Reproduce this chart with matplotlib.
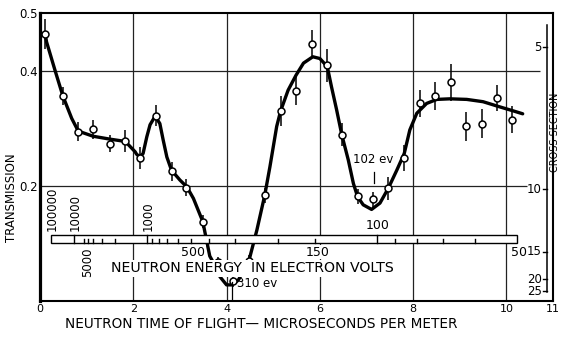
import numpy as np
import matplotlib
matplotlib.use("Agg")
import matplotlib.pyplot as plt
from matplotlib.patches import Rectangle

# measured transmission with statistical errors (time of flight in microseconds per meter)
tof = [0.11, 0.49, 0.82, 1.14, 1.50, 1.83, 2.14, 2.49, 2.82, 3.14,
       3.49, 3.82, 4.13, 4.48, 4.82, 5.16, 5.49, 5.83, 6.16, 6.47,
       6.81, 7.15, 7.47, 7.81, 8.15, 8.48, 8.81, 9.13, 9.47, 9.80, 10.13]
trans = [0.464, 0.356, 0.294, 0.298, 0.273, 0.278, 0.249, 0.322, 0.225, 0.197,
         0.138, 0.067, 0.034, 0.070, 0.184, 0.330, 0.365, 0.446, 0.409, 0.289,
         0.182, 0.177, 0.196, 0.248, 0.343, 0.356, 0.380, 0.303, 0.308, 0.352, 0.315]
err = [0.026, 0.016, 0.017, 0.017, 0.015, 0.019, 0.019, 0.019, 0.016, 0.014,
       0.012, 0.010, 0.010, 0.010, 0.013, 0.026, 0.024, 0.024, 0.028, 0.020,
       0.013, 0.013, 0.020, 0.022, 0.023, 0.024, 0.032, 0.025, 0.025, 0.023, 0.023]

# fitted resonance curve
curve_t = [0.11, 0.14, 0.32, 0.49, 0.68, 0.82, 1.14, 1.50, 1.83, 2.04,
           2.07, 2.14, 2.21, 2.29, 2.36, 2.47, 2.57, 2.64, 2.72, 2.82,
           3.00, 3.15, 3.29, 3.49, 3.64, 3.75, 3.86, 4.00, 4.11, 4.25,
           4.40, 4.48, 4.65, 4.82, 4.93, 5.075, 5.16, 5.32, 5.49, 5.65,
           5.85, 6.00, 6.16, 6.25, 6.36, 6.47, 6.61, 6.72, 6.81, 6.93,
           7.11, 7.29, 7.47, 7.65, 7.81, 7.93, 8.08, 8.29, 8.51, 8.79,
           9.15, 9.50, 9.86, 10.15, 10.35]
curve_T = [0.464, 0.450, 0.401, 0.356, 0.317, 0.295, 0.286, 0.281, 0.277, 0.259,
           0.255, 0.250, 0.256, 0.285, 0.306, 0.321, 0.308, 0.280, 0.250, 0.227,
           0.210, 0.198, 0.178, 0.138, 0.078, 0.062, 0.042, 0.028, 0.028, 0.036,
           0.057, 0.070, 0.123, 0.184, 0.233, 0.303, 0.330, 0.366, 0.392, 0.413,
           0.424, 0.421, 0.407, 0.372, 0.332, 0.289, 0.245, 0.204, 0.181, 0.167,
           0.159, 0.170, 0.196, 0.227, 0.256, 0.297, 0.326, 0.343, 0.350, 0.351,
           0.350, 0.346, 0.337, 0.330, 0.325]

# energy scale (eV)
band_ends = [100000, 50]
major_energy = [10000, 1000, 100]
minor_energy = [6000, 5000, 4000, 3000, 2000, 900, 800, 700, 600, 500,
                400, 300, 200, 150, 90, 80, 70, 60]
energy_up_rot = [100000, 10000, 1000]
energy_down_rot = [5000]
energy_down = [500, 150, 50]
energy_up = [100]

xticks = [0, 2, 4, 6, 8, 10, 11]
yticks = [0.2, 0.4, 0.5]
sigma_ticks = [5, 10, 15, 20, 25]


def e_to_t(e):
    # flight time in microseconds per meter for a neutron of energy e (eV)
    return 72.3 / np.sqrt(e)


def sigma_to_T(s):
    return np.exp(-0.164 * s)


plt.rcParams['font.family'] = 'DejaVu Sans'
fig = plt.figure(figsize=(5.61, 3.42), dpi=100)
ax = fig.add_axes([40 / 561, 41 / 342, 513 / 561, 288 / 342])
ax.set_xlim(0, 11)
ax.set_ylim(0, 0.5)

for side in ['top', 'right', 'bottom']:
    ax.spines[side].set_linewidth(1.5)
ax.spines['left'].set_linewidth(2.3)

ax.set_xticks(xticks, [str(x) for x in xticks])
ax.set_yticks(yticks, [str(y) for y in yticks])
ax.tick_params(axis='x', length=0, pad=2.5, labelsize=8)
ax.tick_params(axis='y', length=0, pad=1.5, labelsize=8.5)

# grid
for x in [2, 4, 6, 8, 10]:
    ax.axvline(x, color='#222222', lw=0.9, zorder=0.5)
ax.hlines(0.4, 0, 10.72, color='#222222', lw=0.9, zorder=0.5)
ax.hlines(0.2, 0, 10.45, color='#222222', lw=0.9, zorder=0.5)

# curve and data
ax.plot(curve_t, curve_T, color='black', lw=2.4, zorder=2, solid_capstyle='round')
ax.errorbar(tof, trans, yerr=err, fmt='none', ecolor='black', elinewidth=1.1, capsize=0, zorder=3)
ax.plot(tof, trans, 'o', mfc='white', mec='black', ms=5, mew=1.1, zorder=4)

# energy ruler
b_lo, b_hi = 0.101, 0.115
t0, t1 = e_to_t(band_ends[0]), e_to_t(band_ends[1])
ax.add_patch(Rectangle((t0, b_lo), t1 - t0, b_hi - b_lo, facecolor='white',
                       edgecolor='black', lw=1.0, zorder=5))
for e in major_energy:
    ax.plot([e_to_t(e)] * 2, [b_lo, b_hi], color='black', lw=1.0, zorder=6)
for e in minor_energy:
    ax.plot([e_to_t(e)] * 2, [b_lo, b_lo + 0.007], color='black', lw=1.0, zorder=6)

for e in energy_up_rot:
    ax.text(e_to_t(e) + 0.03, b_hi + 0.006, str(e), rotation=90, ha='center', va='bottom',
            fontsize=8.5, zorder=6)
for e in energy_down_rot:
    ax.text(e_to_t(e), b_lo - 0.008, str(e), rotation=90, ha='center', va='top',
            fontsize=8.5, zorder=6)
for e in energy_down:
    ax.text(e_to_t(e) + 0.05, b_lo - 0.005, str(e), ha='center', va='top', fontsize=9,
            zorder=6, bbox=dict(facecolor='white', edgecolor='none', pad=0.5))
for e in energy_up:
    ax.text(e_to_t(e), b_hi + 0.004, str(e), ha='center', va='bottom', fontsize=9, zorder=6)

ax.text(4.55, 0.057, 'NEUTRON ENERGY  IN ELECTRON VOLTS', ha='center', va='center',
        fontsize=10.2, zorder=6, bbox=dict(facecolor='white', edgecolor='none', pad=1))

# resonance markers
ax.plot([e_to_t(310)] * 2, [0, 0.033], color='black', lw=0.9, zorder=6)
ax.text(4.22, 0.031, '310 ev', ha='left', va='center', fontsize=8.5, zorder=6)
ax.plot([e_to_t(102)] * 2, [0.204, 0.2245], color='black', lw=0.9, zorder=6)
ax.text(7.14, 0.234, '102 ev', ha='center', va='bottom', fontsize=8.5, zorder=6)

# cross section scale on the right
ax.plot([10.87, 10.87], [0.0156, 0.479], color='black', lw=1.1, zorder=6)
for s in sigma_ticks:
    ax.plot([10.78, 10.87], [sigma_to_T(s)] * 2, color='black', lw=1.0, zorder=6)
    ax.text(10.76, sigma_to_T(s), str(s), ha='right', va='center', fontsize=8.5, zorder=6)

ax.text(-0.055, 0.36, 'TRANSMISSION', rotation=90, ha='center', va='center',
        fontsize=8.5, transform=ax.transAxes)
fig.text(560.5 / 561, 1 - 132 / 342, 'CROSS SECTION', rotation=90, ha='right', va='center',
         fontsize=7)
fig.text(261 / 561, 1 - 324 / 342, 'NEUTRON TIME OF FLIGHT\u2014 MICROSECONDS PER METER',
         ha='center', va='center', fontsize=9.8)

fig.savefig('out.png', dpi=100, facecolor='white')
